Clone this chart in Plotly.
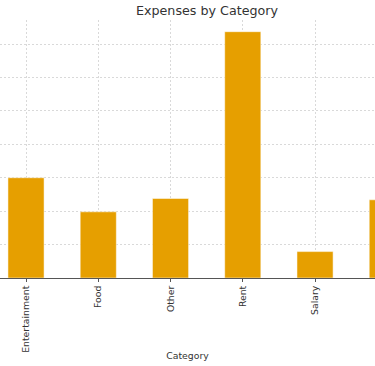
import plotly.graph_objects as go

categories = ["Entertainment", "Food", "Other", "Rent", "Salary", "Utilities"]
amounts = [300, 198, 238, 737, 79, 234]

fig = go.Figure(
    go.Bar(
        x=categories,
        y=amounts,
        width=0.5,
        marker=dict(color="#E69F00", line=dict(color="rgba(255,255,255,0.5)", width=1)),
    )
)

fig.update_layout(
    width=375,
    height=366,
    margin=dict(l=0, r=0, t=20, b=88),
    paper_bgcolor="white",
    plot_bgcolor="white",
    font=dict(family="DejaVu Sans", color="#333333"),
    title=dict(
        text="Expenses by Category",
        x=0.552,
        xanchor="center",
        xref="paper",
        y=1 - 11 / 366,
        yanchor="middle",
        font=dict(size=12.7, color="#333333"),
    ),
    showlegend=False,
)

fig.update_xaxes(
    range=[-0.36, 4.83],
    automargin=False,
    tickangle=-90,
    tickfont=dict(size=9.3, color="#333333"),
    title=dict(text="Category", font=dict(size=9.3, color="#333333"), standoff=0),
    showgrid=True,
    gridcolor="#d9d9d9",
    griddash="2px,2px",
    gridwidth=1,
    showline=True,
    linecolor="#555555",
    linewidth=1,
    ticks="outside",
    ticklen=3,
    tickcolor="#555555",
)
fig.update_yaxes(
    range=[0, 772],
    dtick=100,
    automargin=False,
    showticklabels=False,
    showgrid=True,
    gridcolor="#d9d9d9",
    griddash="2px,2px",
    gridwidth=1,
    zeroline=False,
    showline=False,
)

fig.write_html(
    "out.html",
    config={"displayModeBar": False},
    post_script="document.body.style.margin='0';document.body.style.overflow='hidden';",
)
